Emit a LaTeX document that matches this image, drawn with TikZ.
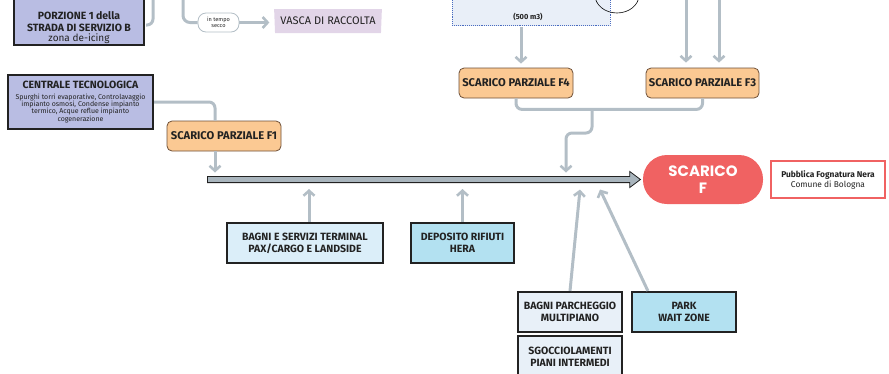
\documentclass[tikz,border=0pt]{standalone}
\usepackage{fontspec}
\setmainfont{Fira Sans}
\newfontfamily\popfont{Poppins}
\usetikzlibrary{arrows.meta,shapes.geometric,shapes.arrows,calc}
\definecolor{lav}{HTML}{B9BDE3}
\definecolor{vascac}{HTML}{E2D5E8}
\definecolor{orng}{HTML}{FBC993}
\definecolor{orngb}{HTML}{6E5038}
\definecolor{connc}{HTML}{B3BEC6}
\definecolor{arrg}{HTML}{A9B5BD}
\definecolor{darkb}{HTML}{222222}
\definecolor{redf}{HTML}{F06262}
\definecolor{lblue}{HTML}{DBEEF9}
\definecolor{mblue}{HTML}{B3E1F1}
\definecolor{pblue}{HTML}{E8F0F8}
\definecolor{tankf}{HTML}{E9EFF8}
\definecolor{tankb}{HTML}{4A6CC0}
\tikzset{
  conn/.style={draw=connc, line width=3pt},
  tip/.style={-{Straight Barb[length=5pt,width=11pt,line width=2.6pt]}},
  darkbox/.style={draw=darkb, line width=2.2pt, inner sep=0pt, align=center, text=darkb},
  orbox/.style={draw=orngb, fill=orng, line width=0.8pt, rounded corners=5pt, inner sep=0pt,
    minimum height=30pt, font=\bfseries\fontsize{11.2}{13}\selectfont, text=darkb},
  btxt/.style={font=\bfseries\fontsize{10.5}{12}\selectfont},
}
\begin{document}
\begin{tikzpicture}[x=1pt,y=-1pt]
\useasboundingbox (0,0) rectangle (889,373);
\clip (0,0) rectangle (889,373);

% top-left box
\node[darkbox, fill=lav, minimum width=130pt, minimum height=57pt] (p1) at (79,16.5) {};
\node[align=center, text=darkb, inner sep=0pt, font=\bfseries\fontsize{10.5}{12}\selectfont] (p1t) at (79,28)
  {PORZIONE 1 della\\[-0.5pt]STRADA DI SERVIZIO B\\[-1.5pt]\mdseries\fontsize{10}{11}\selectfont zona de-icing};
\coordinate (p1in) at (153,-2);
\draw[conn, rounded corners=6pt] (p1in) |- ($(p1.east)+(1,8.5)$);

% in tempo secco
\node[draw=connc, fill=white, line width=0.8pt, rounded corners=8pt, minimum width=41pt,
  minimum height=19pt, inner sep=0pt, align=center, font=\fontsize{5.6}{5.8}\selectfont, text=darkb]
  (its) at (218.5,22.5) {in tempo\\secco};
\coordinate (itsin) at (183,-2);
\draw[conn, rounded corners=7pt] (itsin) |- (its.west);

\node[trapezium, trapezium angle=84, shape border rotate=180, trapezium stretches=true,
  minimum width=108pt, minimum height=24pt, fill=vascac, inner sep=0pt, text=darkb,
  font=\fontsize{11}{12}\selectfont] (vasca) at (328,21) {VASCA DI RACCOLTA};
\draw[conn, tip, shorten >=5pt] (its.east) -- (vasca.west |- its.east);

% tank
\node[draw=tankb, densely dotted, line width=0.9pt, fill=tankf, minimum width=158pt,
  minimum height=37pt, inner sep=0pt] (tank) at (531,7) {};
\node[font=\bfseries\fontsize{7.4}{8}\selectfont, text=darkb, inner sep=0pt] (tankt) at (528,16.5) {(500 m3)};
\node[ellipse, draw=black, line width=0.6pt, minimum width=44pt, minimum height=36pt, inner sep=0pt] (circ) at (617,-5) {};

% partial discharges
\node[orbox, minimum width=114pt] (f4) at (516,83) {SCARICO PARZIALE F4};
\node[orbox, minimum width=113pt] (f3) at (702.5,83) {SCARICO PARZIALE F3};
\node[orbox, minimum width=114pt] (f1) at (224,136) {SCARICO PARZIALE F1};

\coordinate (t4) at (521,27);
\draw[conn, tip, shorten >=4pt] (t4) -- (t4 |- f4.north);
\coordinate (in3a) at (686,-2);
\coordinate (in3b) at (719,-2);
\draw[conn, tip, shorten >=5pt] (in3a) -- (in3a |- f3.north);
\draw[conn, tip, shorten >=5pt] (in3b) -- (in3b |- f3.north);

% main arrow
\node[single arrow, draw=darkb, fill=arrg, line width=0.8pt, minimum height=433pt,
  single arrow head extend=5pt, inner xsep=0pt, inner ysep=2.7pt, single arrow tip angle=74,
  anchor=west] (main) at (207,179.5) {};
\coordinate (abv) at ($(main.west)+(0,-7)$);
\coordinate (blw) at ($(main.west)+(0,9.5)$);

% centrale tecnologica
\node[darkbox, fill=lav, minimum width=145pt, minimum height=54pt,
  font=\bfseries\fontsize{10.5}{12}\selectfont] (ct) at (80.5,102)
  {CENTRALE TECNOLOGICA\\[4pt]\parbox{143pt}{\centering\mdseries\fontsize{7}{7.3}\selectfont
   Spurghi torri evaporative, Controlavaggio\\impianto osmosi, Condense impianto\\termico, Acque reflue impianto\\cogenerazione}};
\coordinate (f1in) at ($(f1.north)+(-9,0)$);
\coordinate (f1out) at ($(f1.south)+(-9,0)$);
\draw[conn, rounded corners=6pt] (ct.east) -| (f1in);
\draw[conn, tip] (f1out) -- (f1out |- abv);

% merge F4/F3
\coordinate (f4b) at ($(f4.south)+(0,11)$);
\draw[conn, rounded corners=6pt] (f4.south) -- (f4b) -| (f3.south);
\coordinate (mj) at (592,109);
\coordinate (mj2) at (592,133);
\coordinate (k4) at (566,0);
\draw[conn, tip, rounded corners=6pt] (mj) -- (mj2) -| (k4 |- abv);

% SCARICO F
\node[fill=redf, rounded corners=24pt, minimum width=120pt, minimum height=49pt, inner sep=0pt,
  text=white, align=center, font=\popfont\bfseries\fontsize{15}{17}\selectfont] (sf) at (703,179.5) {SCARICO\\F};
\node[draw=redf, line width=1.5pt, fill=white, minimum width=114pt, minimum height=37pt, inner sep=0pt,
  align=center, text=darkb, font=\bfseries\fontsize{8.4}{10}\selectfont] (pf) at (828,179.5)
  {Pubblica Fognatura Nera\\\mdseries Comune di Bologna};

% bottom boxes
\node[darkbox, fill=lblue, minimum width=156pt, minimum height=40pt, btxt] (bt) at (305,243)
  {BAGNI E SERVIZI TERMINAL\\PAX/CARGO E LANDSIDE};
\node[darkbox, fill=mblue, minimum width=103pt, minimum height=40pt, btxt] (dr) at (462.5,243)
  {DEPOSITO RIFIUTI\\HERA};
\node[darkbox, fill=pblue, minimum width=104pt, minimum height=40pt, btxt] (bp) at (570,312)
  {BAGNI PARCHEGGIO\\MULTIPIANO};
\node[darkbox, fill=mblue, minimum width=104pt, minimum height=40pt, btxt] (pw) at (684,312)
  {PARK\\WAIT ZONE};
\node[darkbox, fill=pblue, minimum width=104pt, minimum height=42pt, btxt] (sg) at (570,357)
  {SGOCCIOLAMENTI\\PIANI INTERMEDI};

\coordinate (bto) at ($(bt.north)+(4,0)$);
\draw[conn, tip] (bto) -- (bto |- blw);
\draw[conn, tip] (dr.north) -- (dr.north |- blw);
\coordinate (tipbp) at (580,189.5);
\coordinate (tippw) at (600,189.5);
\coordinate (pwo) at ($(pw.north west)+(17,0)$);
\draw[conn, tip] (bp.north) -- (tipbp);
\draw[conn, tip] (pwo) -- (tippw);
\end{tikzpicture}
\end{document}
